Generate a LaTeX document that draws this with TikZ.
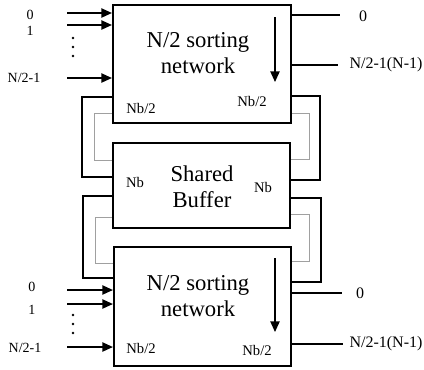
\documentclass[tikz,border=0pt]{standalone}
\usepackage{fontspec}
\setmainfont{Liberation Serif}
\usetikzlibrary{arrows.meta,positioning,calc}
\definecolor{Ink}{HTML}{000000}
\definecolor{Faint}{HTML}{A0A0A0}
\tikzset{
 box/.style={draw=Ink, line width=1.6pt, fill=white, inner sep=0pt},
 boxtext/.style={align=center, font=\fontsize{17}{19.5}\selectfont},
 port/.style={font=\fontsize{11}{12}\selectfont},
 inlbl/.style={font=\fontsize{10.5}{12}\selectfont},
 outlbl/.style={font=\fontsize{12}{13}\selectfont},
 inarrow/.style={-{Triangle[length=8pt,width=7pt]}, line width=1.1pt, draw=Ink},
 outwire/.style={line width=0.8pt, draw=Ink},
 sortarrow/.style={-{Triangle[length=8pt,width=7pt]}, line width=1pt, draw=Ink},
 loopline/.style={line width=1.1pt, draw=Ink},
 faintline/.style={line width=0.6pt, draw=Faint}
}

\begin{document}
\begin{tikzpicture}[x=0.75pt,y=-0.75pt]
\useasboundingbox (0,0) rectangle (424,369);

% sorting networks and the buffer between them
\node[box, minimum width=133.5pt, minimum height=88.5pt] (top) at (202,64) {};
\node[box, minimum width=132.75pt, minimum height=63.75pt] (buf) at (201.5,185.5) {};
\node[box, minimum width=132.75pt, minimum height=89.25pt] (bot) at (202.5,306.5) {};

\node[boxtext] (toptxt) at (198,53) {N/2 sorting\\network};
\node[boxtext] (buftxt) at (202,186.5) {Shared\\Buffer};
\node[boxtext] (bottxt) at (198,296) {N/2 sorting\\network};

\node[port] (tnl) at (141,108) {Nb/2};
\node[port] (tnr) at (252,101) {Nb/2};
\node[port] (bnl) at (135,182) {Nb};
\node[port] (bnr) at (263,187) {Nb};
\node[port] (dnl) at (141,348) {Nb/2};
\node[port] (dnr) at (257,350) {Nb/2};

% inputs
\foreach \y/\lx/\ly/\t in {13/30/15/0, 25/30/31/1, 78/24/78/{N/2-1}} {
  \coordinate (ti\y) at (67,\y);
  \node[inlbl] (tl\y) at (\lx,\ly) {\t};
  \draw[inarrow] (ti\y) -- (ti\y -| top.west);
}
\foreach \y/\lx/\ly/\t in {290/32/287/0, 304/32/310/1, 347/25/348/{N/2-1}} {
  \coordinate (bi\y) at (67,\y);
  \node[inlbl] (bl\y) at (\lx,\ly) {\t};
  \draw[inarrow] (bi\y) -- (bi\y -| bot.west);
}
\foreach \y in {38,47,56} \fill[Ink] (73,\y) circle (1pt);
\foreach \y in {315,324,333} \fill[Ink] (73,\y) circle (1pt);

% outputs
\coordinate (to0) at (340,15);
\coordinate (to1) at (338,65);
\node[outlbl] (tol0) at (363,16) {0};
\node[outlbl] (tol1) at (386,65) {N/2-1(N-1)};
\draw[outwire] (top.east |- to0) -- (to0);
\draw[outwire] (top.east |- to1) -- (to1);

\coordinate (bo0) at (342,293);
\coordinate (bo1) at (343,344);
\node[outlbl] (bol0) at (360,293) {0};
\node[outlbl] (bol1) at (386,344) {N/2-1(N-1)};
\draw[outwire] (bot.east |- bo0) -- (bo0);
\draw[outwire] (bot.east |- bo1) -- (bo1);

% sort direction
\coordinate (ts) at (275,17);
\coordinate (te) at (275,82);
\draw[sortarrow] (ts) -- (te);
\coordinate (bs) at (275,258);
\coordinate (be) at (275,332);
\draw[sortarrow] (bs) -- (be);

% links to the shared buffer
\draw[loopline] (top.west |- 0,97) -- ++(-30,0) |- (buf.west |- 0,177);
\draw[loopline] (top.east |- 0,96) -- ++(28,0) |- (buf.east |- 0,180);
\draw[loopline] (buf.west |- 0,196) -- ++(-29,0) |- (bot.west |- 0,278);
\draw[loopline] (buf.east |- 0,198) -- ++(30,0) |- (bot.east |- 0,282);
\draw[faintline] (top.west |- 0,113) -- ++(-18,0) |- (buf.west |- 0,160);
\draw[faintline] (top.east |- 0,113) -- ++(17,0) |- (buf.east |- 0,159);
\draw[faintline] (buf.west |- 0,217) -- ++(-17,0) |- (bot.west |- 0,263);
\draw[faintline] (buf.east |- 0,214) -- ++(18,0) |- (bot.east |- 0,261);
\end{tikzpicture}
\end{document}
